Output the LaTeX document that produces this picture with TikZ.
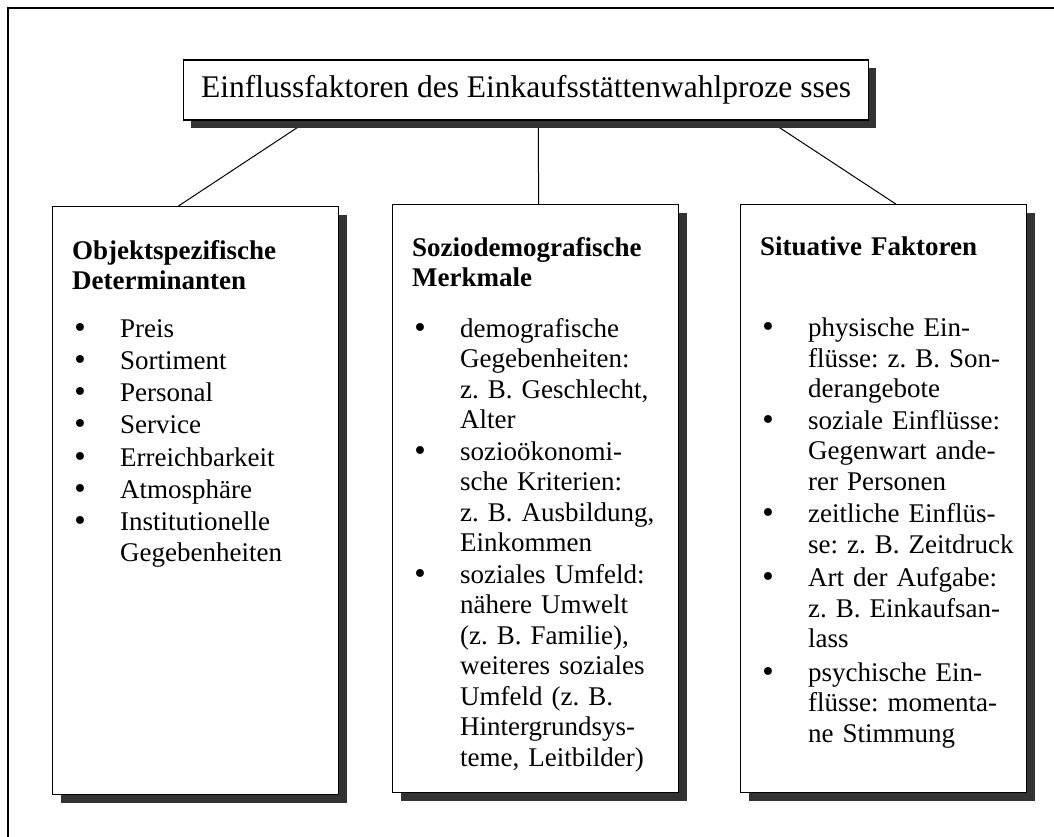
\documentclass[tikz,border=0pt]{standalone}
\usepackage{fontspec}
\setmainfont{Liberation Serif}
\newfontfamily\punktfont{DejaVu Sans}
\usetikzlibrary{calc,shadows,backgrounds}
\definecolor{schatten}{HTML}{333333}

\tikzset{
  kasten/.style={draw, line width=1.4pt, fill=white, anchor=north west,
    minimum width=286pt, minimum height=588pt,
    drop shadow={shadow xshift=8pt, shadow yshift=-8pt, fill=schatten, opacity=1}},
  titelkasten/.style={draw, line width=1.4pt, fill=white,
    minimum width=685pt, minimum height=60pt, inner sep=0pt,
    font=\fontsize{31.5}{36}\selectfont,
    drop shadow={shadow xshift=7pt, shadow yshift=-8pt, fill=schatten, opacity=1}},
  inhalt/.style={anchor=base west, inner sep=0pt, text width=264pt, align=left,
    font=\fontsize{27}{30.5}\selectfont\frenchspacing},
  linie/.style={line width=1pt}
}
\newcommand{\pkt}{\makebox[48pt][l]{{\punktfont\textbullet}}}
\newcommand{\weiter}{\hspace*{48pt}}

\begin{document}
\begin{tikzpicture}[x=1pt, y=-1pt]
\useasboundingbox (0,0) rectangle (1054,836);

% Rahmen
\draw[line width=1.4pt] (8,845) -- (8,8) -- (1062,8);

% Kaesten
\node[titelkasten] (titel) at (526,90) {Einflussfaktoren des Einkaufsst\"attenwahlproze sses};
\node[kasten] (links) at (52,206) {};
\node[kasten] (mitte) at (392,204) {};
\node[kasten] (rechts) at (740,204) {};

% Verbindungen
\begin{scope}[on background layer]
\draw[linie] ($(titel.south west)!0.182!(titel.south east)$) -- ($(links.north west)!0.44!(links.north east)$);
\draw[linie] ($(titel.south west)!0.518!(titel.south east)$) -- ($(mitte.north west)!0.51!(mitte.north east)$);
\draw[linie] ($(titel.south west)!0.854!(titel.south east)$) -- ($(rechts.north west)!0.542!(rechts.north east)$);
\end{scope}

% Texte
\node[inhalt] (objekt) at (72,259) {%
  \textbf{Objektspezifische}\\
  \textbf{Determinanten}\\[17pt]
  \pkt Preis\\[1.8pt]
  \pkt Sortiment\\[1.8pt]
  \pkt Personal\\[1.8pt]
  \pkt Service\\[1.8pt]
  \pkt Erreichbarkeit\\[1.8pt]
  \pkt Atmosph\"are\\[1.8pt]
  \pkt Institutionelle\\
  \weiter Gegebenheiten};

\node[inhalt] (sozio) at (412,256) {%
  \textbf{Soziodemografische}\\
  \textbf{Merkmale}\\[20pt]
  \pkt demografische\\
  \weiter Gegebenheiten:\\
  \weiter z. B. Geschlecht,\\
  \weiter Alter\\[1pt]
  \pkt sozio\"okonomi-\\
  \weiter sche Kriterien:\\
  \weiter z. B. Ausbildung,\\
  \weiter Einkommen\\[1pt]
  \pkt soziales Umfeld:\\
  \weiter n\"ahere Umwelt\\
  \weiter (z. B. Familie),\\
  \weiter weiteres soziales\\
  \weiter Umfeld (z. B.\\
  \weiter Hintergrundsys-\\
  \weiter teme, Leitbilder)};

\node[inhalt] (situativ) at (760,255) {%
  \textbf{Situative Faktoren}\\[51pt]
  \pkt physische Ein-\\
  \weiter fl\"usse: z. B. Son-\\
  \weiter derangebote\\[1pt]
  \pkt soziale Einfl\"usse:\\
  \weiter Gegenwart ande-\\
  \weiter rer Personen\\[2pt]
  \pkt zeitliche Einfl\"us-\\
  \weiter se: z. B. Zeitdruck\\[3pt]
  \pkt Art der Aufgabe:\\
  \weiter z. B. Einkaufsan-\\
  \weiter lass\\[3pt]
  \pkt psychische Ein-\\
  \weiter fl\"usse: momenta-\\
  \weiter ne Stimmung};

\end{tikzpicture}
\end{document}
